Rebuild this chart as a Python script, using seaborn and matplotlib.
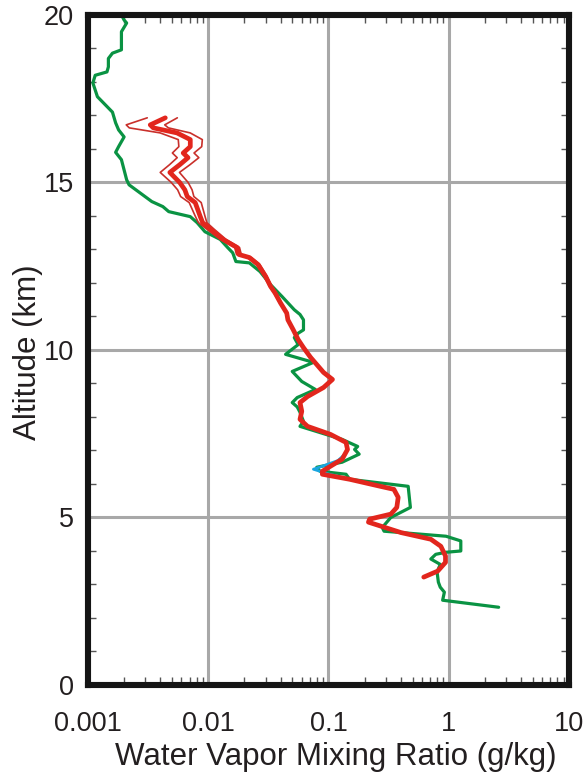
import numpy as np
import pandas as pd
import matplotlib
matplotlib.use("Agg")
import matplotlib.pyplot as plt
import seaborn as sns
from matplotlib.ticker import LogLocator, MultipleLocator, FixedLocator

# radiosonde profile (green)
sonde_alt = [2.32, 2.53, 2.77, 2.92, 3.07, 3.37, 3.6, 3.76, 3.9, 3.96, 4.0, 4.3, 4.44,
             4.59, 4.7, 5.0, 5.3, 5.93, 6.14, 6.29, 6.38, 6.5, 6.65, 6.89, 7.03, 7.12,
             7.33, 7.72, 7.87, 8.14, 8.3, 8.43, 8.58, 8.82, 9.06, 9.36, 9.63, 9.87,
             10.16, 10.37, 10.5, 10.6, 10.9, 11.06, 11.2, 11.6, 11.95, 12.34, 12.6,
             12.64, 12.9, 13.06, 13.3, 13.53, 13.8, 13.98, 14.13, 14.28, 14.43, 14.93,
             15.08, 15.68, 15.9, 16.07, 16.36, 16.57, 16.78, 17.1, 17.56, 17.97, 18.2,
             18.3, 18.45, 18.7, 18.86, 18.96, 19.5, 19.76, 19.85, 20.0]
sonde_wv = [2.6, 0.89, 0.92, 0.85, 0.82, 0.80, 0.85, 0.71, 0.78, 0.94, 1.26, 1.26, 0.95,
            0.29, 0.28, 0.33, 0.48, 0.46, 0.15, 0.14, 0.085, 0.08, 0.13, 0.18, 0.165, 0.175,
            0.13, 0.058, 0.062, 0.058, 0.055, 0.05, 0.055, 0.078, 0.06, 0.05, 0.075, 0.044,
            0.056, 0.052, 0.056, 0.062, 0.062, 0.058, 0.052, 0.041, 0.033, 0.027, 0.022,
            0.017, 0.016, 0.0145, 0.0126, 0.0094, 0.0081, 0.0071, 0.0047, 0.0042, 0.0034, 0.0022,
            0.0021, 0.0019, 0.0017, 0.0018, 0.0020, 0.0018, 0.0017, 0.0016, 0.0012, 0.0011, 0.00115,
            0.00144, 0.00148, 0.00148, 0.0016, 0.0019, 0.0019, 0.0021, 0.0020, 0.0019]

# lidar retrieval (red) with lower / upper uncertainty in decades
lidar_alt = [3.22, 3.4, 3.66, 3.85, 4.14, 4.35, 4.55, 4.86, 4.95, 5.1, 5.3, 5.6, 5.84,
             5.93, 6.14, 6.29, 6.38, 6.53, 6.74, 7.03, 7.24, 7.48, 7.72, 7.93, 8.17,
             8.43, 8.61, 8.88, 9.12, 9.33, 9.78, 10.07, 10.31, 10.6, 10.9, 11.1, 11.4,
             11.7, 11.9, 12.2, 12.55, 12.76, 12.85, 13.06, 13.3, 13.6, 13.8, 13.98, 14.4,
             14.58, 14.78, 15.0, 15.3, 15.53, 15.74, 15.88, 16.07, 16.28, 16.48, 16.63,
             16.72, 16.93]
lidar_wv = [0.62, 0.81, 0.94, 0.94, 0.86, 0.71, 0.40, 0.215, 0.22, 0.33, 0.37, 0.38, 0.35,
            0.27, 0.15, 0.089, 0.089, 0.104, 0.13, 0.144, 0.14, 0.104, 0.067, 0.058, 0.06,
            0.058, 0.067, 0.091, 0.108, 0.091, 0.071, 0.062, 0.056, 0.051, 0.046, 0.045, 0.040,
            0.036, 0.033, 0.030, 0.026, 0.022, 0.018, 0.0174, 0.0133, 0.0105, 0.009, 0.0086, 0.0078,
            0.0067, 0.0064, 0.0058, 0.0048, 0.0058, 0.0068, 0.0062, 0.0071, 0.0071, 0.0055, 0.0035,
            0.0033, 0.0044]
lidar_err_lo = [0.0] * 35 + [0.005, 0.008, 0.01, 0.01, 0.012, 0.015, 0.018, 0.02, 0.02, 0.025,
                             0.03, 0.035, 0.04, 0.05, 0.055, 0.06, 0.07, 0.08, 0.085, 0.09,
                             0.09, 0.095, 0.10, 0.14, 0.20, 0.20, 0.15]
lidar_err_hi = [0.0] * 35 + [0.005, 0.008, 0.01, 0.01, 0.012, 0.015, 0.018, 0.02, 0.02, 0.025,
                             0.03, 0.035, 0.04, 0.05, 0.055, 0.06, 0.07, 0.08, 0.085, 0.09,
                             0.09, 0.095, 0.10, 0.11, 0.125, 0.12, 0.10]

# second retrieval (cyan), only visible where it departs from the red one
alt2_alt = [6.14, 6.3, 6.44, 6.55, 6.7, 6.9]
alt2_wv = [0.15, 0.1, 0.075, 0.092, 0.12, 0.138]

GREEN = "#0a9343"
RED = "#e2261d"
THIN = "#c9302b"
CYAN = "#1aa6e0"

sns.set_style("white")
plt.rcParams['font.family'] = ['Liberation Sans', 'DejaVu Sans']

fig = plt.figure(figsize=(5.86, 7.76), dpi=100)
ax = fig.add_axes([0.150, 0.1173, 0.821, 0.8634])

lidar = pd.DataFrame({'alt': lidar_alt, 'wv': lidar_wv})
lidar['lo'] = lidar['wv'] / 10 ** np.array(lidar_err_lo)
lidar['hi'] = lidar['wv'] * 10 ** np.array(lidar_err_hi)

sns.lineplot(x=sonde_wv, y=sonde_alt, sort=False, estimator=None, color=GREEN, lw=2.3, ax=ax)
sns.lineplot(x=alt2_wv, y=alt2_alt, sort=False, estimator=None, color=CYAN, lw=2.0, ax=ax)
sns.lineplot(data=lidar, x='lo', y='alt', sort=False, estimator=None, color=THIN, lw=1.2, ax=ax)
sns.lineplot(data=lidar, x='hi', y='alt', sort=False, estimator=None, color=THIN, lw=1.2, ax=ax)
sns.lineplot(data=lidar, x='wv', y='alt', sort=False, estimator=None, color=RED, lw=3.4, ax=ax)

ax.set_xscale('log')
ax.set_xlim(0.001, 10)
ax.set_ylim(0, 20)

ax.xaxis.set_major_locator(FixedLocator([0.001, 0.01, 0.1, 1, 10]))
ax.xaxis.set_major_formatter(matplotlib.ticker.FixedFormatter(['0.001', '0.01', '0.1', '1', '10']))
ax.xaxis.set_minor_locator(LogLocator(base=10, subs=np.arange(2, 10)))
ax.xaxis.set_minor_formatter(matplotlib.ticker.NullFormatter())
ax.yaxis.set_major_locator(MultipleLocator(5))
ax.yaxis.set_minor_locator(MultipleLocator(1))

ax.grid(True, which='major', color='#a8a8a8', lw=2.2)
ax.set_axisbelow(True)

ax.tick_params(which='major', length=0, labelsize=19.5, colors='#231f20')
ax.tick_params(axis='x', which='major', pad=19)
ax.tick_params(axis='y', which='major', pad=10)
ax.tick_params(which='minor', direction='in', length=6, width=1, color='#555555',
               top=True, right=True, bottom=True, left=True)

for s in ax.spines.values():
    s.set_linewidth(4.4)
    s.set_color('#151515')

ax.set_xlabel('Water Vapor Mixing Ratio (g/kg)', fontsize=22.5, color='#231f20')
ax.set_ylabel('Altitude (km)', fontsize=22.5, color='#231f20')
ax.xaxis.label.set_va('center')
ax.yaxis.label.set_va('center')
ax.xaxis.set_label_coords(0.516, -0.107)
ax.yaxis.set_label_coords(-0.124, 0.497)

fig.savefig('out.png', dpi=100)
